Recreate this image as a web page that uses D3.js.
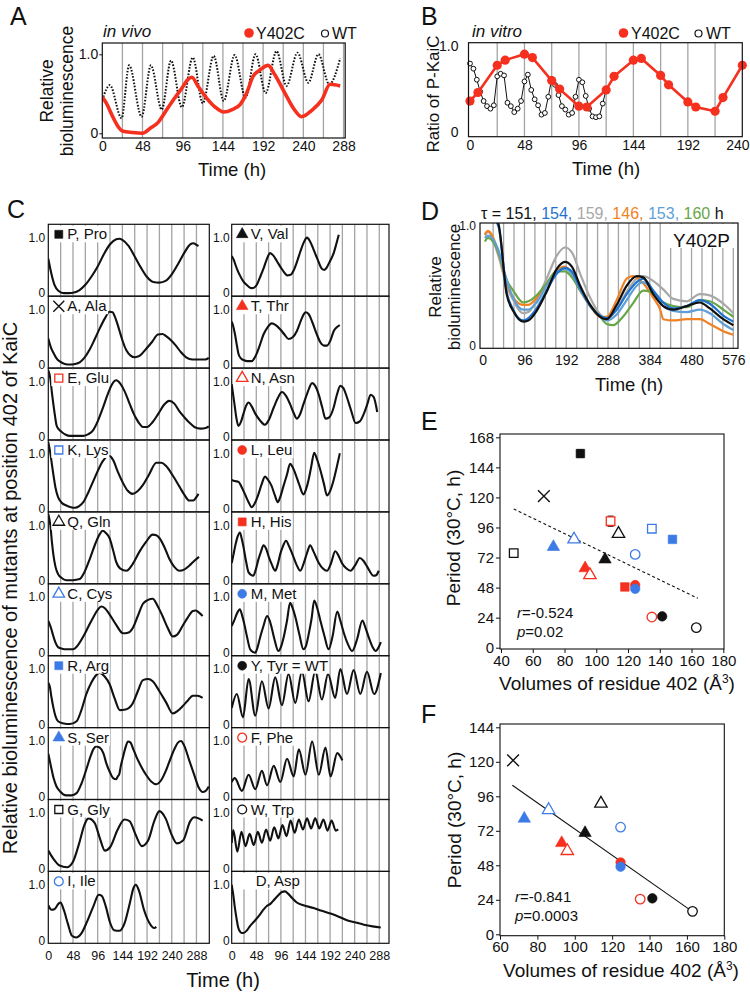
<!DOCTYPE html>
<html><head><meta charset="utf-8">
<script src="https://cdn.jsdelivr.net/npm/d3@7"></script>
<style>
body{margin:0;background:#fff}
svg{display:block}
text{font-family:"Liberation Sans",Arial,Helvetica,sans-serif;fill:#111}
</style>
</head><body>
<svg id="fig" width="750" height="992"></svg>
<script>
// ================= DATA =================
// Panel A: in vivo bioluminescence [time h, relative value]
const aWT = [[0,.42],[9,.61],[23,.19],[32,.86],[47,.21],[58,.86],[71,.30],[82,.92],[95,.33],[108,.96],[120,.38],[133,.98],[145,.41],[158,.99],[171,.45],[183,1.0],[195,.51],[208,1.04],[220,.6],[233,1.02],[246,.64],[258,1.0],[271,.62],[284,.95]];
const aY402C = [[0,.46],[5,.38],[12,.22],[18,.1],[24,.03],[36,.01],[48,0],[58,.07],[66,.13],[77,.3],[86,.44],[95,.57],[102,.68],[107,.71],[114,.6],[125,.44],[135,.33],[145,.27],[155,.3],[165,.37],[172,.5],[180,.72],[188,.8],[198,.86],[206,.74],[218,.51],[228,.32],[238,.21],[250,.29],[262,.42],[272,.62],[284,.6]];
const aXTicks = [0,48,96,144,192,240,288];

// Panel B: in vitro ratio of P-KaiC
const bY402C = [[0,.36],[7,.46],[24,.78],[31,.84],[48,.91],[55,.87],[72,.6],[79,.5],[96,.3],[103,.29],[120,.49],[127,.65],[144,.84],[151,.86],[168,.66],[175,.55],[192,.35],[199,.29],[216,.24],[223,.4],[240,.78]];
const bWT = [[0,.8],[3,.74],[6,.61],[9,.47],[12,.36],[15,.3],[18,.27],[21,.31],[24,.65],[27,.68],[30,.66],[33,.34],[36,.3],[39,.23],[42,.27],[45,.36],[48,.59],[51,.67],[54,.49],[57,.38],[60,.31],[63,.2],[66,.22],[69,.41],[72,.62],[75,.55],[78,.43],[81,.3],[84,.26],[87,.2],[90,.22],[93,.41],[96,.61],[99,.58],[102,.42],[105,.27],[108,.18],[111,.17],[114,.18],[117,.33],[120,.5]];
const bXTicks = [0,48,96,144,192,240];

// Panel C: traces of KaiC position-402 mutants [time h, relative value]
const trPro = [[0,.62],[6,.35],[12,.15],[20,.04],[30,0],[40,0],[50,.01],[60,.05],[72,.15],[84,.3],[96,.48],[108,.7],[120,.88],[132,.97],[138,.98],[144,.96],[156,.85],[168,.66],[180,.46],[192,.29],[204,.2],[216,.19],[228,.22],[240,.34],[252,.52],[264,.72],[276,.88],[282,.9],[288,.87],[292,.85]];
const trAla = [[0,.48],[5,.32],[10,.22],[16,.12],[23,.06],[32,.02],[42,.01],[52,.02],[61,.05],[70,.13],[81,.29],[90,.46],[100,.66],[110,.84],[119,.96],[125,.95],[129,.88],[134,.75],[139,.6],[145,.42],[152,.26],[160,.17],[168,.14],[178,.17],[190,.29],[202,.42],[213,.55],[222,.56],[229,.52],[238,.45],[248,.35],[258,.23],[268,.14],[280,.1],[293,.1],[305,.1],[312,.13]];
const trGlu = [[0,1.2],[4,1.05],[7,.8],[10,.58],[13,.38],[16,.21],[21,.13],[26,.09],[34,.04],[42,.02],[55,.02],[68,.02],[78,.05],[87,.12],[96,.28],[106,.52],[116,.78],[124,.95],[132,1.02],[140,.96],[148,.83],[158,.6],[166,.42],[171,.33],[178,.23],[184,.18],[192,.18],[203,.27],[214,.42],[225,.58],[235,.65],[245,.6],[255,.46],[264,.36],[274,.26],[284,.18],[296,.15],[306,.16],[312,.19]];
const trLys = [[0,1.2],[4,1.0],[7,.8],[10,.61],[14,.38],[19,.21],[26,.11],[35,.06],[44,.03],[52,.02],[60,.05],[68,.12],[78,.3],[87,.49],[96,.68],[106,.86],[114,.94],[119,.95],[126,.88],[135,.67],[145,.47],[154,.33],[164,.27],[174,.32],[184,.43],[196,.62],[210,.83],[220,.83],[229,.77],[242,.6],[255,.4],[264,.26],[274,.15],[282,.15],[287,.2],[292,.27]];
const trGln = [[0,1.2],[4,1.0],[7,.7],[10,.46],[14,.25],[19,.12],[26,.05],[35,.01],[48,.01],[61,.03],[70,.15],[81,.4],[92,.68],[100,.84],[106,.9],[112,.86],[119,.77],[126,.55],[132,.34],[140,.22],[152,.18],[164,.3],[177,.52],[190,.7],[203,.83],[210,.82],[216,.77],[226,.6],[235,.4],[245,.25],[255,.18],[264,.2],[274,.27],[284,.36],[293,.43]];
const trCys = [[0,.57],[5,.45],[10,.29],[14,.18],[19,.1],[27,.07],[35,.06],[48,.06],[58,.14],[68,.29],[78,.47],[87,.63],[96,.77],[103,.83],[110,.8],[119,.69],[132,.5],[145,.35],[155,.36],[164,.44],[174,.66],[184,.88],[194,.95],[203,.97],[212,.85],[222,.66],[232,.45],[242,.29],[250,.32],[261,.48],[271,.63],[281,.75],[287,.76],[293,.72],[300,.66]];
const trArg = [[0,.75],[3,.68],[6,.5],[10,.3],[14,.15],[19,.06],[30,.02],[42,.01],[55,.06],[64,.25],[74,.55],[84,.76],[92,.88],[100,.93],[110,.86],[119,.73],[129,.47],[139,.26],[150,.27],[164,.38],[174,.6],[184,.8],[194,.82],[203,.78],[216,.6],[229,.4],[242,.2],[252,.25],[261,.33],[271,.43],[281,.52],[290,.52],[300,.48]];
const trSer = [[0,.77],[5,.55],[10,.34],[16,.18],[23,.09],[35,.02],[45,.02],[55,.06],[64,.22],[74,.49],[82,.72],[87,.84],[93,.9],[100,.88],[107,.78],[113,.59],[120,.43],[126,.33],[132,.31],[135,.36],[138,.4],[141,.55],[145,.7],[150,.88],[155,.99],[160,.97],[164,.88],[172,.7],[180,.55],[190,.39],[200,.27],[210,.22],[220,.3],[228,.45],[235,.62],[245,.85],[252,.97],[258,1.0],[264,.92],[274,.65],[284,.38],[293,.15],[300,.08],[306,.1],[312,.18]];
const trGly = [[0,.32],[10,.17],[22,.05],[36,.02],[48,.12],[60,.45],[70,.78],[78,.9],[90,.82],[100,.55],[110,.32],[120,.38],[135,.7],[148,.88],[158,.85],[170,.6],[182,.4],[194,.5],[206,.85],[216,1.03],[228,.9],[240,.6],[250,.45],[262,.5],[276,.85],[284,.92],[292,.9],[300,.86]];
const trIle = [[0,.63],[6,.55],[12,.56],[20,.66],[24,.68],[30,.55],[38,.3],[46,.08],[54,.05],[64,.12],[76,.35],[88,.62],[98,.82],[104,.8],[112,.6],[120,.32],[128,.18],[138,.17],[148,.3],[158,.65],[166,.95],[170,1.0],[176,.9],[186,.55],[196,.32],[206,.22],[210,.24]];
const trVal = [[0,.67],[4,.6],[7,.52],[11,.42],[16,.32],[22,.22],[29,.15],[34,.11],[39,.09],[44,.1],[49,.15],[55,.28],[62,.44],[68,.6],[75,.72],[81,.68],[88,.58],[96,.46],[102,.38],[108,.32],[115,.33],[121,.41],[128,.58],[134,.75],[140,.9],[147,1.0],[153,.93],[160,.78],[168,.6],[176,.44],[181,.42],[186,.47],[192,.58],[199,.72],[204,.88],[209,1.05]];
const trThr = [[0,.78],[3,.7],[6.5,.55],[10,.36],[13,.21],[18,.12],[23,.09],[31,.07],[39,.07],[44,.12],[49,.21],[55,.36],[62,.55],[70,.68],[78,.75],[86,.72],[95,.64],[103,.55],[111,.47],[119,.5],[127,.61],[135,.8],[141,.92],[144,.95],[150,.92],[157,.78],[165,.58],[173,.41],[180,.35],[186,.35],[193,.45],[199,.61],[205,.68],[211,.72]];
const trAsn = [[0,.95],[3,.75],[6,.55],[9,.35],[13,.2],[18,.27],[23,.42],[28,.56],[33,.62],[39,.55],[46,.42],[55,.3],[65,.22],[72,.3],[82,.53],[90,.7],[98,.81],[106,.74],[114,.59],[121,.43],[127,.33],[133,.4],[140,.59],[148,.8],[157,.97],[163,.92],[170,.76],[177,.52],[183,.33],[190,.35],[199,.53],[205,.75],[212,.92],[218,.88],[225,.71],[233,.48],[242,.25],[250,.28],[258,.42],[265,.6],[271,.76],[277,.72],[284,.45]];
const trLeu = [[0,.52],[6,.5],[13,.49],[20,.38],[26,.26],[33,.12],[39,.03],[45,.1],[52,.26],[58,.43],[65,.58],[71,.52],[78,.41],[84,.25],[90,.12],[95,.22],[101,.41],[108,.62],[114,.81],[119,.75],[124,.64],[132,.43],[140,.26],[145,.35],[150,.52],[155,.75],[161,1.01],[167,.88],[173,.7],[180,.45],[186,.24],[192,.32],[199,.52],[205,.75],[211,1.0]];
const trHis = [[0,.32],[3,.45],[6.5,.61],[11,.78],[16,.87],[19,.78],[23,.61],[28,.35],[33,.15],[42,.09],[47,.2],[52,.38],[57,.52],[62,.64],[67,.58],[72,.44],[78,.3],[85,.18],[90,.3],[95,.49],[100,.62],[106,.72],[112,.62],[118,.49],[126,.3],[134,.18],[140,.3],[147,.5],[153,.64],[160,.52],[170,.32],[178,.22],[186,.18],[194,.32],[202,.53],[208,.46],[215,.32],[224,.22],[232,.18],[241,.28],[250,.41],[257,.36],[264,.26],[277,.09],[282,.1],[287,.18]];
const trMet = [[0,.48],[5,.58],[10,.7],[16,.78],[20,.68],[25,.5],[30,.28],[36,.06],[42,.01],[46,0],[50,.08],[55,.26],[62,.48],[69,.66],[74,.58],[78,.45],[84,.22],[91,.03],[96,.1],[101,.26],[108,.58],[114,.9],[119,.8],[124,.65],[132,.33],[140,.06],[145,.12],[150,.32],[156,.62],[161,.94],[167,.8],[173,.58],[181,.3],[189,.06],[197,.3],[206,.74],[212,.58],[219,.35],[227,.15],[235,.03],[245,.25],[255,.58],[261,.45],[268,.26],[275,.1],[281,.03],[287,.1],[291,.19]];
const trTyr = [[0,.3],[10,.55],[22,.13],[33,.82],[46,.16],[59,.78],[72,.29],[85,.85],[98,.35],[111,.91],[124,.39],[137,.95],[150,.42],[163,.96],[176,.45],[188,.91],[202,.48],[212,1.0],[225,.55],[238,.98],[251,.55],[264,.95],[278,.55],[291,.93]];
const trPhe = [[0,.26],[6,.33],[20,.1],[33,.39],[46,.13],[59,.46],[69,.2],[82,.55],[95,.26],[108,.68],[121,.36],[131,.85],[144,.39],[157,.99],[170,.39],[183,.88],[193,.36],[206,.78],[216,.65]];
const trTrp = [[0,.46],[3,.69],[11,.3],[19,.66],[27,.4],[35,.62],[43,.42],[51,.66],[59,.46],[67,.7],[75,.5],[83,.74],[91,.54],[99,.78],[107,.58],[115,.86],[123,.64],[131,.88],[139,.7],[147,.9],[155,.72],[163,.9],[171,.72],[179,.88],[187,.68],[195,.86],[203,.68],[208,.7]];
const trAsp = [[0,1.0],[3,.82],[6,.6],[10,.36],[13,.22],[16,.16],[20,.13],[23,.13],[30,.18],[36,.26],[46,.36],[55,.46],[62,.55],[69,.62],[76,.66],[82,.72],[90,.8],[98,.87],[104,.88],[110,.84],[118,.76],[127,.68],[140,.63],[160,.58],[176,.53],[193,.48],[210,.42],[225,.36],[242,.32],[258,.28],[275,.25],[291,.23]];
const cXTicks = [0,48,96,144,192,240,288];

// Residue table (panels C, E, F)
const resName   = ["P, Pro","A, Ala","E, Glu","K, Lys","Q, Gln","C, Cys","R, Arg","S, Ser","G, Gly","I, Ile","V, Val","T, Thr","N, Asn","L, Leu","H, His","M, Met","Y, Tyr = WT","F, Phe","W, Trp","D, Asp"];
const resTrace  = [trPro,trAla,trGlu,trLys,trGln,trCys,trArg,trSer,trGly,trIle,trVal,trThr,trAsn,trLeu,trHis,trMet,trTyr,trPhe,trTrp,trAsp];
const resShape  = ["square","times","square","square","triangle","triangle","square","triangle","square","circle","triangle","triangle","triangle","circle","square","circle","circle","circle","circle",null];
const resColor  = ["k","k","r","b","k","b","b","b","k","b","k","r","r","r","r","b","k","r","k","k"];
const resFilled = [true,false,false,false,false,false,true,true,false,false,true,true,false,true,true,true,true,false,false,false];
const resVolume = [90,67,109,135,114,86,148,73,48,124.5,105.5,93,96,124.5,118,124.5,141.5,135,163,null];
const resPeriod = [155,121,101,95,91,86.5,86.5,80.5,75.5,74.5,70.5,63.5,58,50,48.5,47,25,24.5,16,null];
const resPeriodErr = [3,0,4,2,0,0,0,0,0,0,0,0,0,0,0,0,0,0,0,0];
const resInF    = [false,true,false,false,true,true,false,true,false,true,true,true,true,true,false,true,true,true,true,false];

// Panel D: Y402P replicates
const dTau = ["151","154","159","146","153","160"];
const dBlack = [[12,1.12],[36,1.02],[55,.43],[70,.29],[93,.2],[105,.21],[124,.29],[147,.45],[170,.64],[189,.7],[205,.66],[224,.5],[247,.34],[270,.24],[285,.22],[308,.34],[331,.5],[354,.58],[369,.57],[392,.43],[415,.33],[438,.3],[469,.33],[499,.36],[522,.31],[553,.22],[576,.17]];
const dBlue = [[12,1.12],[36,1.0],[55,.45],[70,.3],[93,.21],[105,.23],[124,.31],[147,.46],[170,.6],[189,.65],[205,.62],[224,.48],[247,.33],[270,.25],[285,.23],[308,.3],[331,.43],[354,.53],[369,.56],[392,.46],[415,.36],[438,.31],[469,.33],[499,.38],[522,.35],[553,.25],[576,.2]];
const dGray = [[5,.92],[12,.95],[36,.75],[55,.5],[70,.38],[93,.27],[105,.28],[124,.38],[147,.56],[170,.75],[189,.82],[205,.78],[224,.6],[247,.4],[270,.26],[285,.22],[308,.3],[331,.45],[354,.56],[369,.58],[392,.54],[415,.47],[438,.39],[469,.37],[499,.43],[522,.42],[553,.35],[576,.27]];
const dOrange = [[5,.93],[12,.96],[36,.78],[55,.52],[70,.4],[93,.34],[105,.34],[124,.4],[147,.52],[170,.63],[189,.66],[205,.6],[224,.46],[247,.33],[270,.24],[285,.24],[308,.38],[331,.56],[345,.58],[369,.52],[392,.4],[408,.3],[415,.22],[438,.21],[469,.22],[499,.22],[522,.18],[553,.12],[576,.09]];
const dSteel = [[5,.9],[12,.92],[36,.8],[55,.55],[70,.4],[93,.3],[105,.3],[124,.36],[147,.5],[170,.62],[189,.64],[205,.6],[224,.47],[247,.33],[270,.24],[285,.21],[308,.26],[331,.38],[354,.5],[369,.53],[392,.45],[415,.33],[438,.29],[469,.28],[499,.3],[522,.27],[553,.18],[576,.13]];
const dGreen = [[5,.87],[12,.9],[36,.78],[55,.55],[70,.46],[93,.36],[105,.37],[124,.42],[147,.52],[170,.62],[189,.62],[205,.57],[224,.46],[247,.34],[270,.24],[285,.18],[300,.17],[320,.23],[345,.35],[369,.46],[385,.45],[410,.37],[438,.33],[469,.32],[499,.38],[522,.37],[553,.3],[576,.24]];
const dXTicks = [0,96,192,288,384,480,576];

// Panels E, F: regression lines [volume, period]
const eFit = [[48,110.8],[164,39.4]];
const fFit = [[66.6,103.7],[163,15.8]];
const eXTicks = [40,60,80,100,120,140,160,180];
const eYTicks = [0,24,48,72,96,120,144,168];
const fXTicks = [60,80,100,120,140,160,180];
const fYTicks = [0,24,48,72,96,120,144];

// ================= DRAW =================
const RED = "#f5301e", BLUE = "#3c7ae6", BLK = "#111", GRID = "#a4a4a4";
const COL = {k:BLK, r:RED, b:BLUE};
const D_COL = {black:"#111", blue:"#1f73cf", gray:"#a8a8a8", orange:"#f08226", steel:"#5f9fd6", green:"#67a646"};
const svg = d3.select("#fig");
let clipN = 0;

function txt(g, x, y, s, fs, anchor, extra) {
  const t = g.append("text").attr("x", x).attr("y", y).attr("font-size", fs).text(s);
  if (anchor) t.attr("text-anchor", anchor);
  if (extra) Object.keys(extra).forEach(k => t.attr(k, extra[k]));
  return t;
}
function rotTxt(g, x, y, s, fs) {
  return g.append("text").attr("transform", `translate(${x},${y}) rotate(-90)`)
    .attr("text-anchor", "middle").attr("font-size", fs).text(s);
}
function clip(x0, y0, x1, y1) {
  const id = "clip" + (clipN++);
  svg.append("clipPath").attr("id", id).append("rect")
    .attr("x", x0).attr("y", y0).attr("width", x1 - x0).attr("height", y1 - y0);
  return `url(#${id})`;
}
function frame(g, x0, y0, x1, y1, w) {
  g.append("rect").attr("x", x0).attr("y", y0).attr("width", x1 - x0).attr("height", y1 - y0)
    .attr("fill", "none").attr("stroke", BLK).attr("stroke-width", w || 1.2);
}
function vgrid(g, xs, ticks, y0, y1, w) {
  g.selectAll(null).data(ticks).join("line")
    .attr("x1", d => xs(d)).attr("x2", d => xs(d)).attr("y1", y0).attr("y2", y1)
    .attr("stroke", GRID).attr("stroke-width", w || 1.3);
}
function xAxis(g, xs, y, ticks, fs, pad, size) {
  const a = g.append("g").attr("transform", `translate(0,${y})`)
    .call(d3.axisBottom(xs).tickValues(ticks).tickSize(size || 0).tickPadding(pad).tickFormat(d3.format("d")));
  a.select(".domain").remove();
  a.attr("font-size", fs);
  a.selectAll("line").attr("stroke", BLK);
  return a;
}
function yAxis(g, ys, x, ticks, fs, pad, fmt, size) {
  const a = g.append("g").attr("transform", `translate(${x},0)`)
    .call(d3.axisLeft(ys).tickValues(ticks).tickSize(size || 0).tickPadding(pad).tickFormat(fmt || d3.format("d")));
  a.select(".domain").remove();
  a.attr("font-size", fs);
  a.selectAll("line").attr("stroke", BLK);
  return a;
}
const symTypes = {square: d3.symbolSquare, triangle: d3.symbolTriangle, circle: d3.symbolCircle, times: d3.symbolTimes};
const symSize = {square: 64, triangle: 58, circle: 62, times: 80};
function marker(g, x, y, shape, color, filled, scale) {
  const s = (scale || 1) * symSize[shape];
  const p = g.append("path").attr("d", d3.symbol().type(symTypes[shape]).size(s)()).attr("transform", `translate(${x},${y})`);
  if (shape === "times") p.attr("fill", "none").attr("stroke", color).attr("stroke-width", 1.4);
  else if (filled) p.attr("fill", color).attr("stroke", color).attr("stroke-width", 0.6);
  else p.attr("fill", "#fff").attr("stroke", color).attr("stroke-width", 1.3);
  return p;
}
const fmt10 = d => d === 0 ? "0" : "1.0";

// ---------- Panel letters ----------
[["A",10,25],["B",421,25],["C",7,218],["D",421,220],["E",421,430],["F",421,723]].forEach(d => txt(svg, d[1], d[2], d[0], 25));

// ---------- Panel A ----------
(function () {
  const g = svg.append("g");
  const xs = d3.scaleLinear().domain([0, 290]).range([102.3, 345.2]);
  const ys = d3.scaleLinear().domain([0, 1]).range([133.3, 54.3]);
  const top = 43, bot = 138;
  vgrid(g, xs, d3.range(24, 289, 24), top, bot);
  const cp = clip(102.3, top, 345.2, bot);
  const line = d3.line().x(d => xs(d[0])).y(d => ys(d[1])).curve(d3.curveMonotoneX);
  g.append("path").datum(aWT).attr("d", line).attr("clip-path", cp).attr("fill", "none")
    .attr("stroke", BLK).attr("stroke-width", 2).attr("stroke-dasharray", "1.6,1.6");
  g.append("path").datum(aY402C).attr("d", line).attr("clip-path", cp).attr("fill", "none")
    .attr("stroke", RED).attr("stroke-width", 3.6).attr("stroke-linejoin", "round");
  frame(g, 102.3, top, 345.2, bot);
  xAxis(g, xs, bot, aXTicks, 14, 3);
  yAxis(g, ys, 102.3, [0, 1], 14, 1, fmt10, 3);
  txt(g, 103, 37, "in vivo", 17, null, {"font-style": "italic"});
  g.append("circle").attr("cx", 249).attr("cy", 33).attr("r", 4.8).attr("fill", RED);
  txt(g, 256, 39, "Y402C", 16);
  g.append("circle").attr("cx", 325).attr("cy", 33.5).attr("r", 3.5).attr("fill", "#fff").attr("stroke", BLK).attr("stroke-width", 1.2);
  txt(g, 332, 39, "WT", 16);
  rotTxt(g, 53, 91, "Relative", 17.5);
  rotTxt(g, 73, 91, "bioluminescence", 17.5);
  txt(g, 232, 176, "Time (h)", 18.5, "middle");
})();

// ---------- Panel B ----------
(function () {
  const g = svg.append("g");
  const xs = d3.scaleLinear().domain([0, 240]).range([470, 742.3]);
  const ys = d3.scaleLinear().domain([0, 1]).range([131.7, 46.5]);
  const top = 42.7, bot = 136.7, left = 468.5;
  vgrid(g, xs, d3.range(24, 217, 24), top, bot);
  const line = d3.line().x(d => xs(d[0])).y(d => ys(d[1]));
  g.append("path").datum(bWT).attr("d", line).attr("fill", "none").attr("stroke", BLK).attr("stroke-width", 1);
  g.selectAll(null).data(bWT).join("circle").attr("cx", d => xs(d[0])).attr("cy", d => ys(d[1])).attr("r", 2.4)
    .attr("fill", "#fff").attr("stroke", BLK).attr("stroke-width", 1);
  g.append("path").datum(bY402C).attr("d", line).attr("fill", "none").attr("stroke", RED).attr("stroke-width", 2.6);
  g.selectAll(null).data(bY402C).join("circle").attr("cx", d => xs(d[0])).attr("cy", d => ys(d[1])).attr("r", 4.6)
    .attr("fill", RED);
  frame(g, left, top, 742.3, bot);
  const xa = xAxis(g, xs, bot, bXTicks, 14, 3);
  xa.selectAll(".tick text").filter(d => d === 240).attr("dx", "-0.35em");
  yAxis(g, ys, left, [0, 1], 14, 10, fmt10);
  txt(g, 472, 37, "in vitro", 17, null, {"font-style": "italic"});
  g.append("circle").attr("cx", 623.5).attr("cy", 33).attr("r", 4.8).attr("fill", RED);
  txt(g, 631, 39, "Y402C", 16);
  g.append("circle").attr("cx", 698.5).attr("cy", 33.5).attr("r", 3.5).attr("fill", "#fff").attr("stroke", BLK).attr("stroke-width", 1.2);
  txt(g, 706, 39, "WT", 16);
  rotTxt(g, 439, 94, "Ratio of P-KaiC", 17);
  txt(g, 606, 175, "Time (h)", 18.5, "middle");
})();

// ---------- Panel C ----------
(function () {
  const g = svg.append("g");
  const cTop = 224.3, cH = 71.9;
  const cols = [{x0: 48.3, x1: 209.3, tMax: 313, pad: 3}, {x0: 231.7, x1: 389, tMax: 307, pad: 2}];
  resName.forEach((name, i) => {
    const col = cols[i < 10 ? 0 : 1];
    const row = i % 10;
    const top = cTop + row * cH, bot = top + cH;
    const xs = d3.scaleLinear().domain([0, col.tMax]).range([col.x0, col.x1]);
    const ys = d3.scaleLinear().domain([-0.055, 1.24]).range([bot, top]);
    vgrid(g, xs, d3.range(24, 289, 24), top, bot, 1.3);
    const cp = clip(col.x0, top, col.x1, bot);
    const line = d3.line().x(d => xs(d[0])).y(d => ys(d[1])).curve(d3.curveMonotoneX);
    g.append("path").datum(resTrace[i]).attr("d", line).attr("clip-path", cp).attr("fill", "none")
      .attr("stroke", BLK).attr("stroke-width", 2.1).attr("stroke-linejoin", "round");
    // label with white backing
    const lg = g.append("g");
    const hasM = resShape[i] !== null;
    const tx = col.x0 + (hasM ? 19 : 24);
    const t = txt(lg, tx, top + 15, name, 15);
    const bb = t.node().getBBox();
    const bx0 = col.x0 + 3;
    lg.insert("rect", "text").attr("x", bx0).attr("y", top + 1.5).attr("width", bb.x + bb.width + 1 - bx0)
      .attr("height", 16.5).attr("fill", "#fff");
    if (hasM) marker(lg, col.x0 + 10.5, top + 10, resShape[i], COL[resColor[i]], resFilled[i]);
    frame(g, col.x0, top, col.x1, bot, 1.2);
    yAxis(g, ys, col.x0, [0, 1], 12, col.pad, fmt10);
    if (row === 9) xAxis(g, xs, bot, cXTicks, 12.5, 8);
  });
  rotTxt(g, 17, 588, "Relative bioluminescence of mutants at position 402 of KaiC", 20);
  txt(g, 223, 987, "Time (h)", 20, "middle");
})();

// ---------- Panel D ----------
(function () {
  const g = svg.append("g");
  const xs = d3.scaleLinear().domain([0, 576]).range([482.7, 733.3]);
  const ys = d3.scaleLinear().domain([0, 1]).range([345.5, 226]);
  const left = 480, right = 738, top = 223, bot = 348.3;
  vgrid(g, xs, d3.range(24, 577, 24), top, bot);
  const cp = clip(left, top, right, bot);
  const line = d3.line().x(d => xs(d[0])).y(d => ys(d[1])).curve(d3.curveMonotoneX);
  const series = [[dGray, D_COL.gray], [dOrange, D_COL.orange], [dGreen, D_COL.green], [dSteel, D_COL.steel], [dBlue, D_COL.blue], [dBlack, D_COL.black]];
  series.forEach(s => g.append("path").datum(s[0]).attr("d", line).attr("clip-path", cp).attr("fill", "none")
    .attr("stroke", s[1]).attr("stroke-width", 2.2).attr("stroke-linejoin", "round"));
  g.append("rect").attr("x", 667).attr("y", top + 1).attr("width", right - 668).attr("height", 24).attr("fill", "#fff");
  txt(g, 730, 247, "Y402P", 19, "end");
  frame(g, left, top, right, bot);
  xAxis(g, xs, bot, dXTicks, 14, 7);
  yAxis(g, ys, left, [0, 1], 12, 4, fmt10);
  const tcol = [D_COL.black, D_COL.blue, D_COL.gray, D_COL.orange, D_COL.steel, D_COL.green];
  const tt = txt(g, 481, 219, "", 16);
  tt.append("tspan").text("τ = ").attr("fill", BLK);
  dTau.forEach((v, i) => tt.append("tspan").text(v + (i < dTau.length - 1 ? ", " : " ")).attr("fill", tcol[i]));
  tt.append("tspan").text("h").attr("fill", BLK);
  rotTxt(g, 441, 287, "Relative", 17);
  rotTxt(g, 460, 287, "bioluminescence", 17);
  txt(g, 629, 391, "Time (h)", 18.5, "middle");
})();

// ---------- Panels E and F ----------
function scatter(cfg) {
  const g = svg.append("g");
  const xs = d3.scaleLinear().domain(cfg.xDom).range(cfg.xRange);
  const ys = d3.scaleLinear().domain(cfg.yDom).range(cfg.yRange);
  const fitLine = d3.line().x(d => xs(d[0])).y(d => ys(d[1]));
  g.append("path").datum(cfg.fit).attr("d", fitLine).attr("fill", "none").attr("stroke", BLK)
    .attr("stroke-width", 1.1).attr("stroke-dasharray", cfg.dashed ? "3,2.5" : null);
  resName.forEach((n, i) => {
    if (resVolume[i] === null || !cfg.include(i)) return;
    const x = xs(resVolume[i]), y = ys(resPeriod[i]);
    if (resPeriodErr[i] > 0) {
      g.append("line").attr("x1", x).attr("x2", x).attr("y1", ys(resPeriod[i] - resPeriodErr[i])).attr("y2", ys(resPeriod[i] + resPeriodErr[i]))
        .attr("stroke", BLK).attr("stroke-width", 1.2);
      g.selectAll(null).data([-1, 1]).join("line").attr("x1", x - 3).attr("x2", x + 3)
        .attr("y1", s => ys(resPeriod[i] + s * resPeriodErr[i])).attr("y2", s => ys(resPeriod[i] + s * resPeriodErr[i]))
        .attr("stroke", BLK).attr("stroke-width", 1.2);
    }
    marker(g, x, y, resShape[i], COL[resColor[i]], resFilled[i], 1.15);
  });
  frame(g, cfg.frame[0], cfg.frame[1], cfg.frame[2], cfg.frame[3], 1.1);
  xAxis(g, xs, cfg.frame[3], cfg.xTicks, 15, 2, 4);
  yAxis(g, ys, cfg.frame[0], cfg.yTicks, 15, 2, null, 4);
  const rt = txt(g, cfg.stat[0], cfg.stat[1], "", 15);
  rt.append("tspan").text("r").attr("font-style", "italic");
  rt.append("tspan").text("=" + cfg.r);
  const pt = txt(g, cfg.stat[0], cfg.stat[1] + 19, "", 15);
  pt.append("tspan").text("p").attr("font-style", "italic");
  pt.append("tspan").text("=" + cfg.p);
  rotTxt(g, cfg.yTitle[0], cfg.yTitle[1], "Period (30°C, h)", 19);
  const xt = txt(g, cfg.xTitle[0], cfg.xTitle[1], "Volumes of residue 402 (Å", 19, "middle");
  xt.append("tspan").text("3").attr("font-size", 12).attr("dy", -7);
  xt.append("tspan").text(")").attr("dy", 7);
}
scatter({xDom: [40, 180], xRange: [501, 723.3], yDom: [0, 168], yRange: [647.7, 437.3],
  frame: [500, 434, 724, 649], xTicks: eXTicks, yTicks: eYTicks, fit: eFit, dashed: true,
  include: () => true, r: "-0.524", p: "0.02", stat: [517, 618], yTitle: [460, 538], xTitle: [617, 690]});
scatter({xDom: [60, 180], xRange: [500, 724.3], yDom: [0, 144], yRange: [934.3, 727.3],
  frame: [500, 724, 724.3, 935.7], xTicks: fXTicks, yTicks: fYTicks, fit: fFit, dashed: false,
  include: i => resInF[i], r: "-0.841", p: "0.0003", stat: [515, 902], yTitle: [461, 820], xTitle: [621, 977]});
</script>
</body></html>
